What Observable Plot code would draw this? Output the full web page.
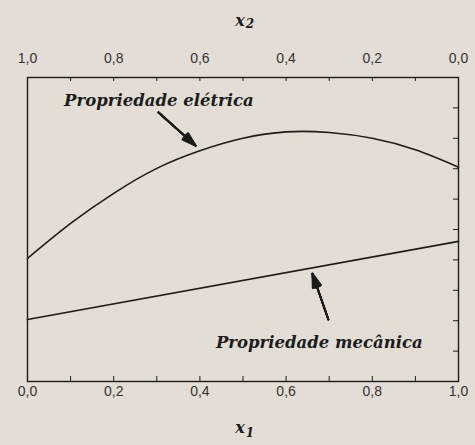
<!DOCTYPE html>
<html>
<head>
<meta charset="utf-8">
<script src="https://cdn.jsdelivr.net/npm/d3@7"></script>
<script src="https://cdn.jsdelivr.net/npm/@observablehq/plot@0.6"></script>
<style>
  html, body { margin: 0; padding: 0; background: #e2ded5; }
</style>
</head>
<body>
<div id="chart"></div>
<script>
// Composition x1 (bottom axis); x2 = 1 - x1 is shown on the top axis
const x1 = [0, 0.1, 0.2, 0.3, 0.4, 0.5, 0.6, 0.7, 0.8, 0.9, 1.0];
// Electrical property (relative units, no scale shown)
const eletrica = [40.5, 52.0, 61.9, 70.1, 75.9, 80.0, 82.1, 81.9, 80.0, 76.2, 70.5];
// Mechanical property: linear in composition
const mecanicaX = [0, 1];
const mecanica = [20.4, 46.1];

const labelTicks = [0, 0.2, 0.4, 0.6, 0.8, 1.0];
const minorTicksX = [0.1, 0.2, 0.3, 0.4, 0.5, 0.6, 0.7, 0.8, 0.9];
const minorTicksY = [10, 20, 30, 40, 50, 60, 70, 80, 90];

const axisTitleTop = ["x", "2"];
const axisTitleBottom = ["x", "1"];

const curveLabels = [
  {text: "Propriedade elétrica", x: 0.305, y: 92.4},
  {text: "Propriedade mecânica", x: 0.677, y: 12.8}
];
const arrows = [
  {x1: 0.304, y1: 88.5, x2: 0.39, y2: 77.6},
  {x1: 0.698, y1: 20.4, x2: 0.661, y2: 35.5}
];
// several head angles stacked so the arrowheads read as solid wedges
const headAngles = [6, 12, 18, 24, 30, 36];

const dec = d3.format(".1f");
const comma = v => dec(v).replace(".", ",");

const serif = "'DejaVu Serif', serif";
const ink = "#1c1c1c";

const chart = Plot.plot({
  width: 475,
  height: 445,
  marginLeft: 27,
  marginRight: 17,
  marginTop: 77,
  marginBottom: 64,
  style: {background: "#e2ded5", fontFamily: "'Liberation Sans', Arial, sans-serif", color: "#333"},
  x: {domain: [0, 1]},
  y: {domain: [0, 100], axis: null},
  marks: [
    Plot.axisX(labelTicks, {anchor: "bottom", tickSize: 0, tickPadding: 5, fontSize: 14, tickFormat: comma, label: null}),
    Plot.axisX(labelTicks, {anchor: "top", tickSize: 0, tickPadding: 15, fontSize: 14, tickFormat: d => comma(1 - d), label: null}),
    // inward tick marks along the frame
    Plot.tickX(minorTicksX, {x: d => d, insetTop: 299, stroke: ink}),
    Plot.tickX(minorTicksX, {x: d => d, insetBottom: 300, stroke: ink}),
    Plot.tickY(minorTicksY, {y: d => d, insetLeft: 426, stroke: ink}),
    Plot.frame({stroke: ink, strokeWidth: 1.4}),
    Plot.line(x1.map((x, i) => ({x, y: eletrica[i]})), {x: "x", y: "y", curve: "natural", stroke: ink, strokeWidth: 1.6}),
    Plot.line(mecanicaX.map((x, i) => ({x, y: mecanica[i]})), {x: "x", y: "y", stroke: ink, strokeWidth: 1.6}),
    ...headAngles.map(a => Plot.arrow(arrows, {x1: "x1", y1: "y1", x2: "x2", y2: "y2", stroke: ink, strokeWidth: 1.8, headLength: 12, headAngle: a})),
    Plot.text(curveLabels, {x: "x", y: "y", text: "text", fontFamily: serif, fontWeight: "bold", fontStyle: "italic", fontSize: 16.5, fill: ink}),
    // axis titles: italic x with a subscript index
    Plot.text([axisTitleTop[0]], {frameAnchor: "top", dy: -63, dx: -3, fontFamily: serif, fontWeight: "bold", fontStyle: "italic", fontSize: 16, fill: ink}),
    Plot.text([axisTitleTop[1]], {frameAnchor: "top", dy: -58, dx: 7, fontFamily: serif, fontWeight: "bold", fontStyle: "italic", fontSize: 12, fill: ink}),
    Plot.text([axisTitleBottom[0]], {frameAnchor: "bottom", dy: 51, dx: -3, fontFamily: serif, fontWeight: "bold", fontStyle: "italic", fontSize: 16, fill: ink}),
    Plot.text([axisTitleBottom[1]], {frameAnchor: "bottom", dy: 55, dx: 7, fontFamily: serif, fontWeight: "bold", fontStyle: "italic", fontSize: 12, fill: ink})
  ]
});

document.getElementById("chart").append(chart);
</script>
</body>
</html>
